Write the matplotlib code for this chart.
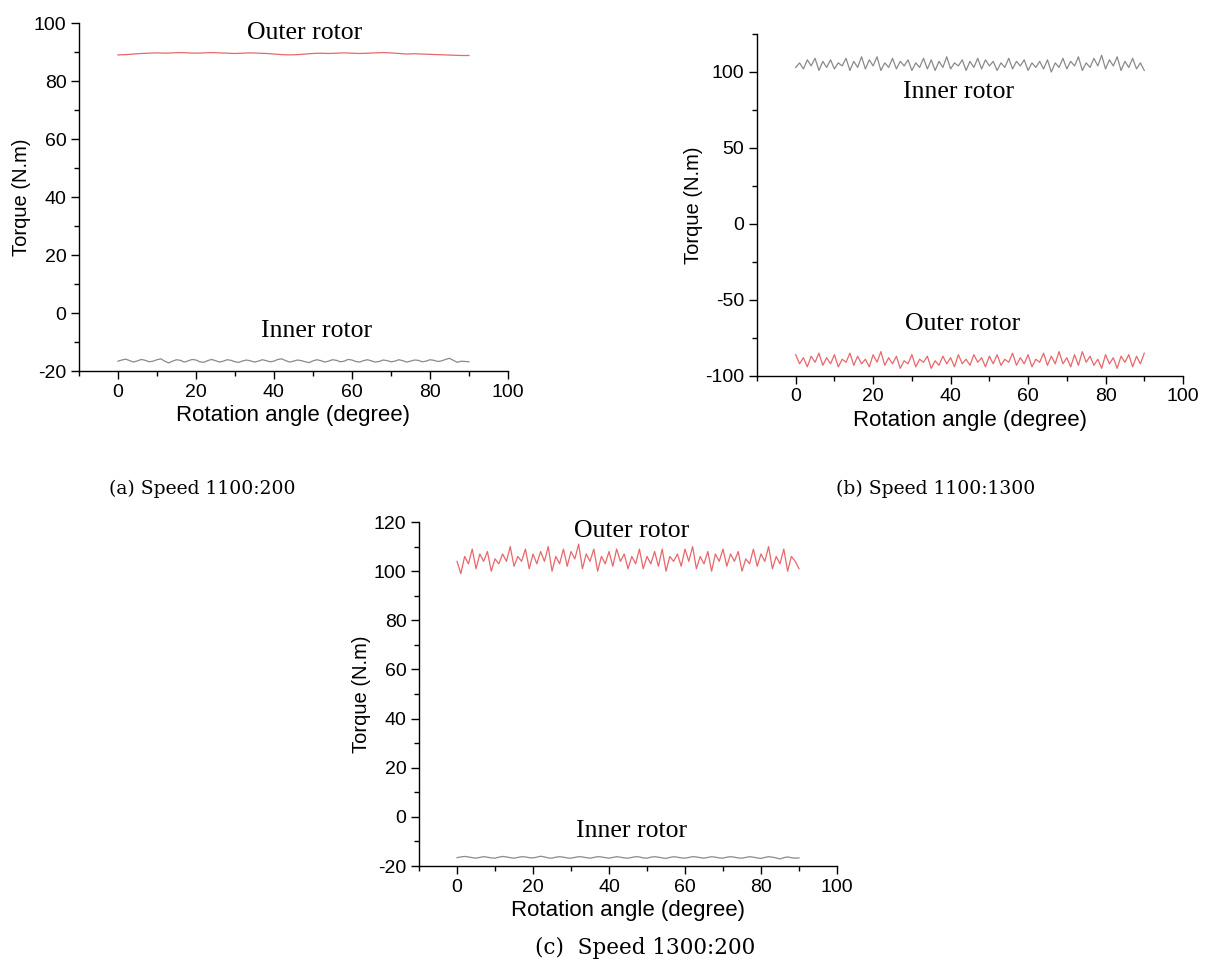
import numpy as np
import matplotlib
matplotlib.use("Agg")
import matplotlib.pyplot as plt
from matplotlib.ticker import MultipleLocator

plt.rcParams["axes.unicode_minus"] = False

# ---------------- data ----------------
angle_1deg = np.arange(0, 91, 1)
angle_2deg = np.arange(0, 91, 2)

a_outer = [89.0, 89.1, 89.3, 89.5, 89.6, 89.7, 89.6, 89.7, 89.8, 89.7,
           89.6, 89.7, 89.8, 89.7, 89.6, 89.5, 89.6, 89.7, 89.6, 89.5,
           89.3, 89.1, 89.0, 89.1, 89.3, 89.5, 89.6, 89.5, 89.6, 89.7,
           89.6, 89.5, 89.6, 89.7, 89.8, 89.7, 89.5, 89.3, 89.4, 89.3,
           89.2, 89.1, 89.0, 88.9, 88.8, 88.8]
a_inner = [-16.6, -16.2, -15.9, -16.4, -16.9, -16.5, -16.0, -16.3, -16.8, -16.6,
           -16.1, -15.8, -16.6, -17.2, -16.6, -16.1, -16.3, -16.9, -16.5, -16.0,
           -16.2, -16.8, -17.0, -16.4, -16.0, -16.4, -16.9, -16.6, -16.1, -16.3,
           -16.8, -17.0, -16.5, -16.2, -16.5, -16.9, -16.6, -16.1, -16.4, -16.8,
           -16.6, -16.0, -15.8, -16.4, -16.9, -16.6, -16.2, -16.4, -16.8, -17.1,
           -16.5, -16.1, -16.4, -16.9, -16.6, -16.1, -16.3, -16.8, -16.6, -16.0,
           -16.2, -16.7, -16.9, -16.4, -16.1, -16.5, -16.9, -16.7, -16.2, -16.4,
           -16.8, -16.6, -16.1, -16.4, -16.9, -16.6, -16.2, -16.3, -16.8, -16.6,
           -16.1, -16.3, -16.7, -16.5, -16.0, -15.6, -16.3, -17.0, -16.6, -16.7,
           -16.8]

b_inner = [103, 106, 102, 108, 104, 109, 101, 107, 103, 108,
           102, 106, 104, 109, 101, 107, 103, 110, 102, 108,
           104, 110, 101, 106, 103, 109, 102, 107, 104, 108,
           101, 106, 103, 109, 102, 108, 101, 107, 103, 110,
           102, 106, 104, 108, 101, 107, 103, 109, 102, 108,
           104, 107, 101, 106, 103, 109, 102, 107, 104, 108,
           101, 106, 103, 107, 102, 108, 100, 106, 103, 109,
           102, 107, 104, 110, 101, 106, 103, 109, 104, 111,
           102, 108, 104, 110, 101, 107, 103, 109, 102, 106,
           101]
b_outer = [-86, -92, -88, -94, -87, -91, -85, -93, -88, -92,
           -86, -94, -89, -91, -85, -93, -87, -92, -89, -94,
           -86, -91, -84, -93, -88, -92, -87, -95, -90, -92,
           -86, -94, -89, -91, -87, -95, -90, -93, -87, -92,
           -88, -94, -86, -92, -89, -93, -86, -91, -88, -94,
           -87, -92, -86, -93, -89, -91, -85, -93, -88, -92,
           -86, -94, -89, -91, -85, -93, -87, -92, -84, -92,
           -88, -94, -86, -93, -84, -91, -87, -93, -89, -95,
           -86, -92, -88, -95, -87, -91, -86, -94, -87, -92,
           -85]

c_outer = [104, 99, 106, 103, 109, 101, 107, 104, 108, 100,
           105, 103, 107, 104, 110, 102, 106, 104, 109, 101,
           107, 103, 108, 104, 110, 100, 106, 103, 109, 102,
           108, 105, 111, 101, 107, 104, 109, 100, 106, 103,
           108, 102, 109, 104, 107, 101, 106, 103, 109, 101,
           106, 103, 108, 102, 109, 100, 106, 104, 107, 102,
           109, 104, 110, 101, 106, 103, 108, 100, 107, 104,
           109, 102, 107, 104, 108, 100, 105, 103, 109, 102,
           107, 104, 110, 101, 106, 103, 109, 100, 106, 104,
           101]
c_inner = [-16.6, -16.3, -16.1, -16.3, -16.6, -16.8, -16.5, -16.2, -16.4, -16.7,
           -16.8, -16.4, -16.1, -16.3, -16.6, -16.8, -16.5, -16.2, -16.3, -16.6,
           -16.7, -16.4, -16.0, -16.3, -16.7, -16.8, -16.4, -16.2, -16.4, -16.7,
           -16.8, -16.5, -16.2, -16.3, -16.6, -16.8, -16.5, -16.2, -16.3, -16.6,
           -16.8, -16.5, -16.2, -16.4, -16.7, -16.8, -16.5, -16.2, -16.3, -16.7,
           -16.8, -16.4, -16.2, -16.4, -16.7, -16.9, -16.5, -16.2, -16.4, -16.7,
           -16.8, -16.5, -16.2, -16.3, -16.6, -16.8, -16.5, -16.2, -16.4, -16.7,
           -16.8, -16.4, -16.2, -16.4, -16.7, -16.8, -16.5, -16.2, -16.4, -16.7,
           -16.9, -16.5, -16.2, -16.4, -16.7, -17.1, -16.6, -16.3, -16.6, -16.8,
           -16.7]

captions = ["(a) Speed 1100:200", "(b) Speed 1100:1300", "(c)  Speed 1300:200"]
xlabel = "Rotation angle (degree)"
ylabel = "Torque (N.m)"

RED = "#e8676b"
GRAY = "#8a8a8a"
SANS = "Liberation Sans"
SERIF = "Liberation Serif"
CAPF = "DejaVu Serif"
ANN = 18.5

fig = plt.figure(figsize=(12.09, 9.63), dpi=100)


def style(ax, ymaj, ymin):
    for s in ("top", "right"):
        ax.spines[s].set_visible(False)
    for s in ("left", "bottom"):
        ax.spines[s].set_linewidth(1.0)
    ax.xaxis.set_major_locator(MultipleLocator(20))
    ax.xaxis.set_minor_locator(MultipleLocator(10))
    ax.yaxis.set_major_locator(MultipleLocator(ymaj))
    ax.yaxis.set_minor_locator(MultipleLocator(ymin))
    ax.tick_params(which="major", direction="out", length=6, width=1,
                   labelsize=14, pad=3)
    ax.tick_params(which="minor", direction="out", length=3.5, width=1)
    for lab in ax.get_xticklabels() + ax.get_yticklabels():
        lab.set_fontfamily(SANS)
    ax.set_xlabel(xlabel, fontsize=16, family=SANS, labelpad=3)
    ax.set_ylabel(ylabel, fontsize=14.5, family=SANS, labelpad=2)


# (a)
ax1 = fig.add_axes([0.0653, 0.6147, 0.3548, 0.3614])
ax1.plot(angle_2deg, a_outer, color=RED, lw=0.9)
ax1.plot(angle_1deg, a_inner, color=GRAY, lw=0.9)
ax1.set_xlim(-10, 100)
ax1.set_ylim(-20, 100)
style(ax1, 20, 10)
ax1.text(48, 96.5, "Outer rotor", family=SERIF, fontsize=ANN, ha="center", va="center")
ax1.text(51, -6.3, "Inner rotor", family=SERIF, fontsize=ANN, ha="center", va="center")

# (b)
ax2 = fig.add_axes([0.6261, 0.6096, 0.3524, 0.3551])
ax2.plot(angle_1deg, b_inner, color=GRAY, lw=0.9)
ax2.plot(angle_1deg, b_outer, color=RED, lw=0.9)
ax2.set_xlim(-10, 100)
ax2.set_ylim(-100, 125)
style(ax2, 50, 25)
ax2.text(42, 87, "Inner rotor", family=SERIF, fontsize=ANN, ha="center", va="center")
ax2.text(43, -66, "Outer rotor", family=SERIF, fontsize=ANN, ha="center", va="center")

# (c)
ax3 = fig.add_axes([0.3466, 0.1007, 0.3457, 0.3572])
ax3.plot(angle_1deg, c_outer, color=RED, lw=0.9)
ax3.plot(angle_1deg, c_inner, color=GRAY, lw=0.9)
ax3.set_xlim(-10, 100)
ax3.set_ylim(-20, 120)
style(ax3, 20, 10)
ax3.text(46, 116.3, "Outer rotor", family=SERIF, fontsize=ANN, ha="center", va="center")
ax3.text(46, -5.6, "Inner rotor", family=SERIF, fontsize=ANN, ha="center", va="center")

fig.text(202 / 1209, 1 - 489 / 963, captions[0], family=CAPF, fontsize=13.5,
         ha="center", va="center")
fig.text(936 / 1209, 1 - 489 / 963, captions[1], family=CAPF, fontsize=13.5,
         ha="center", va="center")
fig.text(645 / 1209, 1 - 948 / 963, captions[2], family=CAPF, fontsize=15.5,
         ha="center", va="center")

fig.savefig("out.png", dpi=100)
